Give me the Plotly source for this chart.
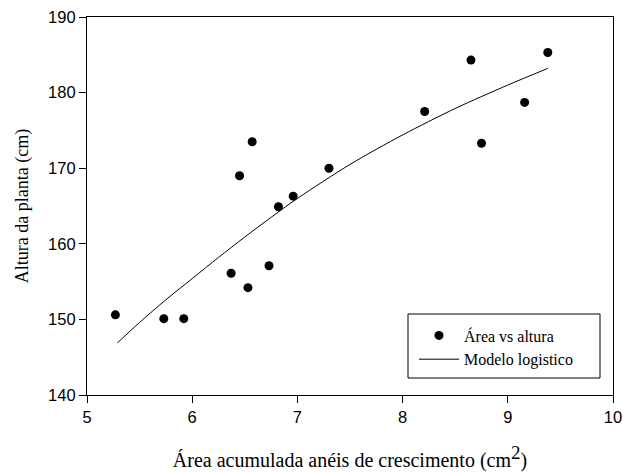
import plotly.graph_objects as go

area = [5.27, 5.73, 5.92, 6.37, 6.45, 6.53, 6.57, 6.73, 6.82, 6.96, 7.30, 8.21, 8.65, 8.75, 9.16, 9.38]
altura = [150.6, 150.1, 150.1, 156.1, 169.0, 154.2, 173.5, 157.1, 164.9, 166.3, 170.0, 177.5, 184.3, 173.3, 178.7, 185.3]

modelo_x = [5.29, 5.5, 5.75, 6.0, 6.25, 6.5, 6.75, 7.0, 7.5, 8.0, 8.5, 9.0, 9.38]
modelo_y = [146.9, 149.6, 152.6, 155.4, 158.2, 160.9, 163.5, 166.0, 170.5, 174.4, 177.9, 181.0, 183.2]

xticks = [5, 6, 7, 8, 9, 10]
yticks = [140, 150, 160, 170, 180, 190]

W, H = 623, 473
L, R, T, B = 87, 10, 17, 78
PW, PH = W - L - R, H - T - B

fig = go.Figure()
fig.add_trace(go.Scatter(x=area, y=altura, mode="markers", name="Área vs altura",
                         marker=dict(color="black", size=9)))
fig.add_trace(go.Scatter(x=modelo_x, y=modelo_y, mode="lines", name="Modelo logistico",
                         line=dict(color="black", width=1, shape="spline", smoothing=0.8)))

axis_common = dict(showline=True, linecolor="black", linewidth=1.2, mirror=True,
                   ticks="outside", ticklen=7, tickcolor="black", showgrid=False,
                   zeroline=False, automargin=False, ticklabeloverflow="allow",
                   tickfont=dict(family="Liberation Sans, Arial", size=16.5, color="black"))

fig.update_xaxes(range=[5, 10], tickvals=xticks,
                 title=dict(text="Área acumulada anéis de crescimento (cm<sup><span style='font-size:19px'>2</span></sup>)",
                            font=dict(family="Liberation Serif, Times New Roman", size=20, color="black"),
                            standoff=28),
                 **axis_common)
fig.update_yaxes(range=[140, 190], tickvals=yticks,
                 title=dict(text="Altura da planta (cm)",
                            font=dict(family="Liberation Serif, Times New Roman", size=18, color="black"),
                            standoff=14),
                 **axis_common)

# legend frame (pixel box converted to paper coordinates)
fig.add_shape(type="rect", xref="paper", yref="paper",
              x0=(408 - L) / PW, x1=(600 - L) / PW,
              y0=(H - B - 378) / PH, y1=(H - B - 314) / PH,
              line=dict(color="black", width=1), fillcolor="white", layer="above")

fig.update_layout(
    width=W, height=H,
    margin=dict(l=L, r=R, t=T, b=B),
    plot_bgcolor="white", paper_bgcolor="white",
    legend=dict(x=(414 - L) / PW, y=(H - B - 318.5) / PH, xanchor="left", yanchor="top",
                borderwidth=0, bgcolor="rgba(0,0,0,0)",
                font=dict(family="Liberation Serif, Times New Roman", size=16, color="black"),
                tracegroupgap=0, itemwidth=40),
    showlegend=True,
)

fig.write_html("out.html", config={"displayModeBar": False},
               post_script="document.body.style.margin='0px';document.body.style.overflow='hidden';")
